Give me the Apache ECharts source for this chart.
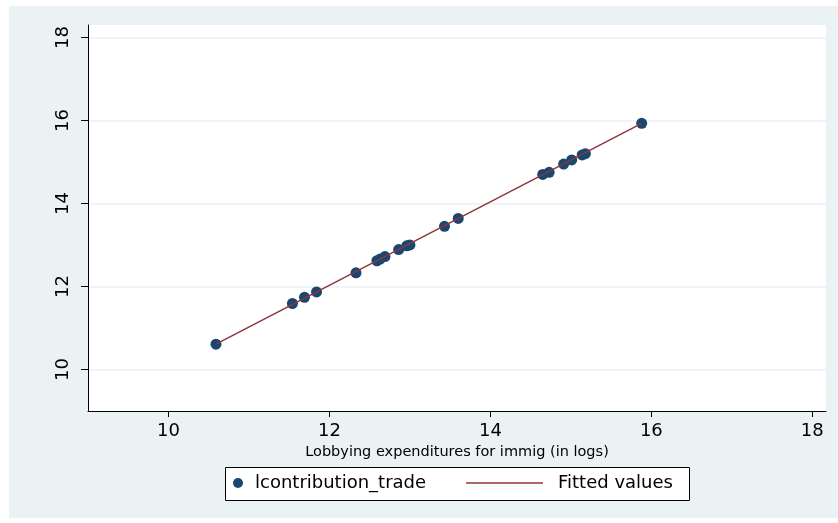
<!DOCTYPE html>
<html>
<head>
<meta charset="utf-8">
<script src="https://cdn.jsdelivr.net/npm/echarts@6/dist/echarts.min.js"></script>
<style>
html,body{margin:0;padding:0;background:#fff;}
#c{width:838px;height:523px;}
</style>
</head>
<body>
<div id="c"></div>
<script>
// Data
const xVals = [10.59, 11.54, 11.69, 11.84, 12.33, 12.59, 12.63, 12.69, 12.86, 12.96, 13.0, 13.43, 13.60, 14.65, 14.73, 14.91, 15.01, 15.14, 15.18, 15.88];
const yVals = [10.61, 11.59, 11.74, 11.87, 12.33, 12.62, 12.66, 12.72, 12.89, 12.98, 13.0, 13.45, 13.64, 14.70, 14.75, 14.95, 15.05, 15.17, 15.20, 15.93];
const fitX = [10.59, 15.88];
const fitY = [10.61, 15.93];
const xTicks = [10, 12, 14, 16, 18];
const yTicks = [10, 12, 14, 16, 18];
const seriesName = 'lcontribution_trade';
const fitName = 'Fitted values';
const xTitle = 'Lobbying expenditures for immig (in logs)';

const font = '"DejaVu Sans", "Liberation Sans", Arial, sans-serif';
const chart = echarts.init(document.getElementById('c'), null, {renderer: 'canvas'});
chart.setOption({
  animation: false,
  backgroundColor: '#ffffff',
  graphic: [
    {type: 'rect', left: 9, top: 6, z: -10, shape: {width: 829, height: 512}, style: {fill: '#eaf2f3'}},
    {type: 'rect', left: 225, top: 467, z: 5, shape: {width: 464, height: 33}, style: {fill: '#ffffff', stroke: '#000000', lineWidth: 1}}
  ],
  grid: {left: 88, top: 25, right: 12, bottom: 112, show: true, backgroundColor: '#ffffff', borderWidth: 0},
  xAxis: {
    type: 'value', min: 9, max: 18.17,
    name: xTitle, nameLocation: 'middle', nameGap: 31,
    nameTextStyle: {fontFamily: font, fontSize: 14.5, color: '#000'},
    axisLine: {show: true, onZero: false, lineStyle: {color: '#000', width: 1}},
    axisTick: {show: true, length: 6, lineStyle: {color: '#000'}, customValues: xTicks},
    axisLabel: {fontFamily: font, fontSize: 18, color: '#000', margin: 11, customValues: xTicks},
    splitLine: {show: false}
  },
  yAxis: {
    type: 'value', min: 9, max: 18.3,
    axisLine: {show: true, onZero: false, lineStyle: {color: '#000', width: 1}},
    axisTick: {show: true, length: 7, lineStyle: {color: '#000'}, customValues: yTicks},
    axisLabel: {fontFamily: font, fontSize: 18, color: '#000', margin: 16, rotate: 90, customValues: yTicks},
    splitLine: {show: false}
  },
  legend: [
    {data: [{name: seriesName, icon: 'circle'}], left: 233, top: 474, padding: 0, itemWidth: 10, itemHeight: 10, z: 6,
     itemStyle: {opacity: 1},
     textStyle: {fontFamily: font, fontSize: 18, color: '#000', padding: [0, 0, 0, 7]}, selectedMode: false},
    {data: [{name: fitName, icon: 'path://M0,0 L77,0 L77,1.5 L0,1.5 Z'}], left: 466, top: 474, padding: 0, itemWidth: 77, itemHeight: 2, z: 6,
     textStyle: {fontFamily: font, fontSize: 18, color: '#000', padding: [0, 0, 0, 10]}, selectedMode: false}
  ],
  series: [
    {
      name: 'grid', type: 'line', data: [], silent: true, z: 0, zlevel: 0,
      markLine: {silent: true, symbol: 'none', z: 0, label: {show: false},
        lineStyle: {color: '#eaf2f3', type: 'solid', width: 1.5},
        data: yTicks.map(v => ({yAxis: v}))}
    },
    {
      name: seriesName, type: 'scatter', symbol: 'circle', symbolSize: 11, z: 3,
      itemStyle: {color: '#1a476f', opacity: 1},
      data: xVals.map((x, i) => [x, yVals[i]])
    },
    {
      name: fitName, type: 'line', showSymbol: false, z: 4,
      lineStyle: {color: '#90353b', width: 1.5}, itemStyle: {color: '#90353b'},
      data: fitX.map((x, i) => [x, fitY[i]])
    }
  ]
});
</script>
</body>
</html>
